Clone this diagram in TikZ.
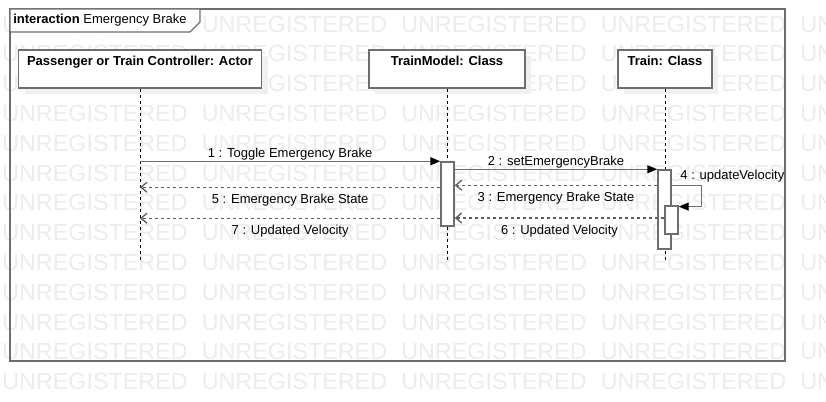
\documentclass[tikz,border=0pt]{standalone}
\usepackage{fontspec}
\setmainfont{Liberation Sans}
\usepackage{xcolor}
\usepackage{tikz}
\usetikzlibrary{arrows.meta,shadows}

\definecolor{umlgray}{HTML}{6E6E6E}
\definecolor{markgray}{HTML}{ECECEC}
\definecolor{shadowgray}{HTML}{F0F0F0}

\tikzset{
  watermark/.style={text=markgray, font=\fontsize{17.5}{17.5}\selectfont, inner sep=0pt, anchor=west},
  lifebox/.style={draw=umlgray, line width=1.1pt, fill=white, inner sep=0pt,
    drop shadow={shadow xshift=4.5pt, shadow yshift=-4.5pt, fill=shadowgray, opacity=1}},
  headtext/.style={font=\fontsize{9.75}{11.7}\selectfont\bfseries, inner sep=0pt, anchor=north},
  msgtext/.style={font=\fontsize{9.75}{11.7}\selectfont, inner sep=1.5pt},
  uplabel/.style={msgtext, midway, above, yshift=-1.5pt},
  downlabel/.style={msgtext, midway, below, yshift=-3pt},
  actbox/.style={draw=umlgray, line width=1.1pt, fill=white, minimum width=9.75pt, inner sep=0pt},
  lifeline/.style={black, line width=0.6pt, dash pattern=on 2.25pt off 2.25pt},
  callmsg/.style={draw=umlgray, line width=1.1pt, -{Triangle[length=7.5pt,width=6pt,color=black]}},
  replymsg/.style={draw=umlgray!85!black, line width=1pt, dash pattern=on 2.25pt off 2.25pt,
    -{Straight Barb[length=4.5pt,width=7.5pt]}},
}

\begin{document}
\begin{tikzpicture}[x=0.75pt, y=-0.75pt]
\useasboundingbox (0,0) rectangle (826,402);

% Watermark in the background
\begin{scope}
\clip (0,0) rectangle (826,402);
\foreach \row in {0,...,12}
  \foreach \col in {0,...,4}
    \node[watermark] at (2+199.5*\col, 24+29.8*\row) {UNREGISTERED};
\end{scope}

% Interaction frame with its title tab
\draw[umlgray, line width=0.9pt] (10,9) rectangle (785,361);
\draw[umlgray, line width=0.9pt, fill=white] (10,9) -- (200,9) -- (200,22) -- (190,32) -- (10,32) -- cycle;
\node[msgtext, anchor=west] (title) at (11,20.5) {\textbf{interaction} Emergency Brake};

% Lifeline heads
\node[lifebox, minimum width=182.25pt, minimum height=28.5pt] (actor) at (140,69) {};
\node[headtext] (actorname) at ([yshift=-5.25pt]actor.north) {Passenger or Train Controller: Actor};
\node[lifebox, minimum width=117pt, minimum height=28.5pt] (model) at (447,69) {};
\node[headtext] (modelname) at ([yshift=-5.25pt]model.north) {TrainModel: Class};
\node[lifebox, minimum width=70.5pt, minimum height=28.5pt] (train) at (665,69) {};
\node[headtext] (trainname) at ([yshift=-5.25pt]train.north) {Train: Class};

% Dashed lifelines
\coordinate (actorend) at (140,262);
\coordinate (modelend) at (447,262);
\coordinate (trainend) at (665,262);
\draw[lifeline] (actor) -- (actorend);
\draw[lifeline] (model) -- (modelend);
\draw[lifeline] (train) -- (trainend);

% Activation bars
\node[actbox, minimum height=48pt] (modelact) at (447.5,194) {};
\node[actbox, minimum height=59.25pt] (trainact) at (664.5,209.5) {};
\node[actbox, minimum height=21pt] (selfact) at (671.5,220) {};

% Messages
\draw[callmsg] (actor.south |- modelact.north) -- (modelact.north west)
  node[uplabel] {1 : Toggle Emergency Brake};
\draw[callmsg] (modelact.east |- trainact.north) -- (trainact.north west)
  node[uplabel] {2 : setEmergencyBrake};
\draw[replymsg] ([yshift=-12pt]trainact.north west) -- ([yshift=-12pt]trainact.north west -| modelact.east)
  node[downlabel] {3 : Emergency Brake State};
\draw[callmsg] ([yshift=-12pt]trainact.north east)
  node[msgtext, anchor=south west, xshift=4.5pt] {4 : updateVelocity}
  -- ++(22.5pt,0) |- ([yshift=-1pt]selfact.north east);
\draw[replymsg] ([yshift=-19.5pt]modelact.north west) -- ([yshift=-19.5pt]modelact.north west -| actor.south)
  node[downlabel] {5 : Emergency Brake State};
\draw[replymsg] ([yshift=1.5pt]selfact.west) -- ([yshift=1.5pt]selfact.west -| modelact.east)
  node[downlabel] {6 : Updated Velocity};
\draw[replymsg] ([yshift=-42.75pt]modelact.north west) -- ([yshift=-42.75pt]modelact.north west -| actor.south)
  node[downlabel] {7 : Updated Velocity};
\end{tikzpicture}
\end{document}
